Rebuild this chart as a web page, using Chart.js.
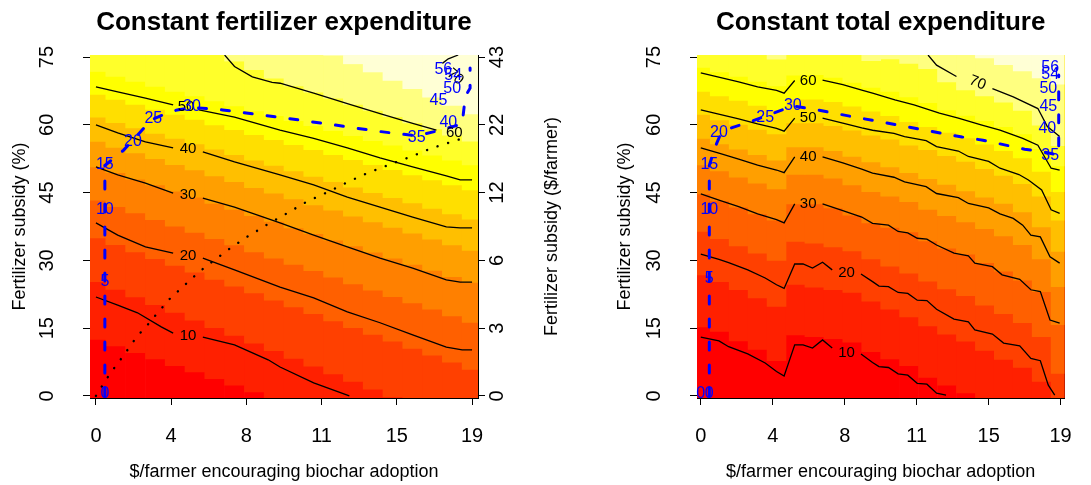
<!DOCTYPE html>
<html>
<head>
<meta charset="utf-8">
<script src="https://cdn.jsdelivr.net/npm/chart.js@4.4.1/dist/chart.umd.min.js"></script>
<style>
  html, body { margin: 0; padding: 0; background: #fff; }
  #wrap { position: relative; width: 1091px; height: 485px; }
  #wrap canvas { position: absolute; top: 0; }
</style>
</head>
<body>
<div id="wrap">
  <canvas id="fertChart" width="600" height="485" style="left:0"></canvas>
  <canvas id="totalChart" width="546" height="485" style="left:545px"></canvas>
</div>
<script>
// shared axes
const dollarSteps = [0, 1, 2, 3, 4, 5, 6, 7, 8, 9, 10, 11, 12, 13, 14, 15, 16, 17, 18, 19];
const dollarTickAt = [0, 3.8, 7.6, 11.4, 15.2, 19];
const dollarTickLabels = ['0', '4', '8', '11', '15', '19'];
const subsidyTicks = [0, 15, 30, 45, 60, 75];
const subsidyDollarLabels = ['0', '3', '6', '12', '22', '43'];
const heatColours = ['#FF0000', '#FF2000', '#FF4000', '#FF6000', '#FF8000', '#FF9F00',
  '#FFBF00', '#FFDF00', '#FFFF00', '#FFFF2A', '#FFFF80', '#FFFFD5'];

// ---- constant fertilizer expenditure ----
// subsidy (%) where each colour step starts, one value per dollar step
const fertBands = [
  [12.5, 11.1, 9.6, 8.2, 6.7, 5.3, 3.8, 2.4, 0.9, -0.6, -1, -1, -1, -1, -1, -1, -1, -1, -1, -1],
  [25.3, 23.6, 21.9, 20.2, 18.5, 16.8, 15.1, 13.4, 11.7, 10, 8.3, 6.6, 4.9, 3.2, 1.5, -0.2, -1, -1, -1, -1],
  [35, 33.5, 31.9, 30.4, 28.9, 27.4, 25.8, 24.3, 22.8, 21.2, 19.7, 18.2, 16.6, 15.1, 13.6, 12.1, 10.5, 9, 7.5, 5.9],
  [43.3, 41.9, 40.5, 39, 37.6, 36.2, 34.8, 33.4, 31.9, 30.5, 29.1, 27.7, 26.3, 24.8, 23.4, 22, 20.6, 19.2, 17.7, 16.3],
  [50.7, 49.4, 48, 46.7, 45.3, 44, 42.6, 41.3, 39.9, 38.6, 37.2, 35.9, 34.5, 33.2, 31.8, 30.5, 29.1, 27.8, 26.4, 25.1],
  [56.3, 55, 53.8, 52.5, 51.2, 50, 48.7, 47.4, 46.1, 44.9, 43.6, 42.3, 41.1, 39.8, 38.5, 37.3, 36, 34.7, 33.4, 32.2],
  [61.7, 60.5, 59.3, 58.1, 57, 55.8, 54.6, 53.4, 52.2, 51, 49.8, 48.6, 47.4, 46.2, 45, 43.9, 42.7, 41.5, 40.3, 39.1],
  [66.7, 65.6, 64.5, 63.4, 62.3, 61.2, 60, 58.9, 57.8, 56.7, 55.6, 54.5, 53.4, 52.3, 51.2, 50.1, 48.9, 47.8, 46.7, 45.6],
  [71.8, 70.7, 69.6, 68.5, 67.4, 66.4, 65.3, 64.2, 63.1, 62, 60.9, 59.8, 58.7, 57.6, 56.5, 55.5, 54.4, 53.3, 52.2, 51.1],
  [null, null, null, null, null, null, null, 74.1, 72.2, 70.3, 68.6, 67.2, 65.9, 64.5, 63.2, 61.8, 60.4, 59.1, 57.7, 56.4],
  [null, null, null, null, null, null, null, null, null, null, null, null, 75.4, 73.5, 71.7, 69.8, 68, 66.1, 64.3, 62.4]
];
// contour lines, [dollars, subsidy]; a null subsidy leaves room for the label
const fertContour10 = [[0, 21.9], [1.1, 20.1], [2.1, 18.4], [3.3, 15.3], [3.9, 13.9], [4.65, null], [5.4, 13], [7, 11.3], [8.7, 8], [9.3, 6.4], [11, 2.9], [12.8, 0]];
const fertContour20 = [[0, 38.3], [1.1, 35.6], [2.5, 33], [3.9, 31.6], [4.65, null], [5.4, 30.5], [7, 27.9], [9.3, 24.1], [11, 21.7], [12.7, 18.6], [14.35, 16.2], [16, 13.5], [17.7, 10.8], [18.5, 10.2], [19, 10.2]];
const fertContour30 = [[0, 50.7], [1.1, 48.9], [2.5, 47.1], [3.9, 44.9], [4.65, null], [5.4, 43.8], [7, 41.8], [9.3, 38.3], [11, 35.6], [12.7, 33], [14.35, 30.5], [16, 28.3], [17.7, 25.7], [18.4, 25.2], [19, 25.2]];
const fertContour40 = [[0, 60], [1.1, 58.2], [2.5, 56.2], [3.9, 54.9], [4.65, null], [5.4, 54], [7, 51.8], [9.3, 48.9], [11, 46.7], [12.7, 44], [14.35, 41.8], [16, 39.6], [17.7, 37.4], [18.4, 37.2], [19, 37.2]];
const fertContour50 = [[0, 68.4], [1.1, 67.3], [2.5, 65.9], [3.9, 64.4], [4.55, null], [5.2, 63.3], [7, 61.7], [9.3, 58.8], [11, 57], [12.7, 54.9], [14.35, 52.7], [16, 50.7], [17.7, 48.7], [18.4, 47.8], [19, 47.8]];
const fertContour60 = [[6.5, 75.45], [7, 72.9], [7.9, 70.6], [8.9, 69.4], [9.3, 69.2], [11, 67], [12.7, 64.7], [14.35, 62.5], [16, 60.3], [17.2, 58.8]];
const fertContour70 = [[18.3, 75.45], [17.8, 74.6], [17.5, 73.6]];
const fertContourLabels = [['10', 4.65, 13.4], ['20', 4.65, 31], ['30', 4.65, 44.5], ['40', 4.65, 54.6],
  ['50', 4.55, 63.9], ['60', 18.1, 58.2], ['70', 18.15, 70.6, 40]];
// equal-spending curve
const fertDotted = [[0, 0], [0.45, 3.2], [0.79, 5.4], [1.13, 7.4], [1.47, 9.4], [1.8, 11.5], [2.14, 13.5], [2.53, 15.3],
  [2.9, 17.3], [3.28, 19.2], [3.66, 21.2], [4.08, 22.9], [4.5, 24.6], [4.92, 26.3], [5.34, 27.9], [5.81, 29.5],
  [6.27, 31], [6.72, 32.5], [7.19, 33.9], [7.7, 35.4], [8.2, 36.7], [8.67, 38], [9.64, 40.4], [10.65, 43],
  [11.7, 45.1], [12.7, 47.3], [13.7, 49.3], [14.9, 51.3], [16, 53.1], [17, 54.9], [18.1, 56.4], [18.65, 57.2]];
// best-mix path and its labels
const fertPath = [[0.45, 0], [0.45, 51], [1.1, 53.3], [1.4, 54.4], [2.2, 58.2], [2.8, 61.1], [3.6, 62.6], [4.1, 63.3],
  [5, 63.8], [6.4, 63.3], [9.55, 61.5], [12, 60], [14.2, 58.6], [15.3, 58], [16.2, 57.6], [17.4, 58.8], [18.5, 60.2],
  [18.6, 64], [18.7, 66.6], [18.9, 68.1], [18.9, 72.6]];
const fertPathLabels = [['0', 0.45, 0.6], ['5', 0.45, 25.2], ['10', 0.45, 41.2], ['15', 0.45, 51.1], ['20', 1.87, 56.2],
  ['25', 2.9, 61.3], ['30', 4.85, 64.1], ['35', 16.2, 57.1], ['40', 17.8, 60.4], ['45', 17.3, 65.4],
  ['50', 18, 68.1], ['54', 18.05, 71], ['56', 17.55, 72.3]];

// ---- constant total expenditure ----
const totalBands = [
  [15.3, 14.3, 12.2, 10.3, 7.8, 13.5, 13.1, 12.7, 11.9, 9.8, 8.2, 6.7, 4.1, 2.4, 0.7, -1, -1, -1, -1, -1],
  [26.8, 25.3, 23.5, 21.7, 19.8, 24.7, 24.1, 23.5, 22.9, 21, 19.2, 17.5, 15.5, 13.7, 12.1, 10.1, 8.1, 6.3, 3.2, -1],
  [36.4, 34.8, 33.2, 31.6, 30, 34.2, 33.8, 33, 32.1, 30.3, 28.7, 27.2, 25.4, 23.7, 22.2, 20.1, 18.2, 16.2, 13.1, 5],
  [44.7, 43.2, 41.8, 40.3, 38.9, 42.5, 42.5, 41.6, 40, 38.3, 37.3, 36.3, 34.3, 32.7, 31.4, 29.5, 27.6, 25.6, 23.1, 15.8],
  [51.1, 49.8, 48.4, 47.1, 45.8, 49, 49, 48.2, 46.7, 45.2, 44.2, 43, 41.3, 39.9, 38.5, 37, 35.4, 33.5, 30.3, 24.2],
  [57, 55.8, 54.6, 53.4, 52.2, 55.1, 55.1, 54.3, 53, 51.8, 50.7, 49.4, 48.1, 46.8, 45.4, 44, 42.6, 40.7, 37.4, 32],
  [62.3, 61.1, 60.1, 59, 58, 60.4, 60.4, 59.8, 58.8, 57.7, 56.8, 55.5, 54.5, 53.2, 51.9, 50.3, 48.8, 47, 44.2, 38.9],
  [67.4, 66.4, 65.4, 64.3, 63.3, 65.7, 65.7, 65.1, 64.1, 63, 62, 60.7, 59.6, 58.3, 57.1, 55.7, 54.3, 52.7, 49.7, 45.2],
  [72.7, 71.7, 70.7, 69.6, 68.6, 71, 71.1, 70.5, 69.4, 68.3, 67.4, 66.2, 64.9, 63.3, 62.1, 60.9, 59.6, 58, 54.7, 50.9],
  [null, null, null, null, 74.5, null, null, null, null, 74.2, 74.6, 73.6, 72.4, 69.5, 67.7, 66.4, 65, 63.2, 59.9, 55.4],
  [null, null, null, null, null, null, null, null, null, null, null, null, null, null, null, 74.8, 73.3, 71.9, 70.4, 69]
];
const totalContour10 = [[0, 13], [0.96, 12.2], [1.47, 10.9], [2.48, 9.3], [3.4, 7.3], [4, 5.4], [4.4, 4.4], [4.96, 11.3],
  [5.4, 11.3], [5.9, 10.6], [6.43, 12.4], [6.94, 10.6], [7.7, null], [8.46, 9.3], [9.07, 7.4], [9.41, 6.5], [9.91, 6.3],
  [10.42, 4.9], [10.93, 4.6], [11.43, 2.8], [11.94, 2.6], [12.45, 0.6], [12.95, 0.2]];
const totalContour20 = [[0, 31.4], [0.96, 30.2], [1.47, 29.5], [2.48, 27.9], [3.4, 26.1], [4, 24.6], [4.4, 23.8], [4.96, 29.2],
  [5.4, 29.2], [5.9, 28.3], [6.43, 29.6], [6.94, 27.9], [7.7, null], [8.46, 27], [9.07, 25.3], [9.41, 24.3], [9.91, 24.2],
  [10.42, 22.9], [10.93, 22.7], [11.43, 21.2], [11.94, 21.1], [12.45, 19.2], [13.37, 17], [14.13, 16.4], [14.47, 14.6],
  [15.4, 13.7], [15.99, 11.7], [16.84, 11.1], [17.43, 8.3], [17.93, 7.8], [18.35, 2.4], [18.69, 0.2]];
const totalContour30 = [[0, 44.7], [1, 43.3], [2, 41.9], [3, 40.3], [4, 39], [4.4, 38.3], [4.96, 42.5], [5.67, null],
  [6.43, 42.5], [7.5, 41], [8.5, 39.6], [9.07, 38.2], [9.91, 37.8], [10.42, 36.4], [10.93, 36.1], [11.43, 34.9],
  [11.94, 34.7], [12.45, 33.4], [13.37, 31.6], [14.13, 31], [14.47, 29.4], [15.4, 28.6], [15.91, 26.8], [16.84, 25.8],
  [17.43, 23.5], [17.93, 23.1], [18.44, 16.8], [18.95, 16.1]];
const totalContour40 = [[0, 54.9], [1, 53.7], [2, 52.4], [3, 51.1], [4, 50], [4.4, 49.4], [4.96, 52.9], [5.67, null],
  [6.43, 52.9], [7.5, 51.6], [8.5, 50.2], [9.07, 49.3], [10.2, 48.4], [10.76, 47.4], [11.9, 46.3], [12.45, 44.8],
  [13.6, 43.9], [14.13, 42.6], [15.2, 41.6], [15.8, 40.3], [16.5, 39.3], [17, 37.8], [17.43, 35.6], [17.93, 35.2],
  [18.44, 30.8], [18.95, 29.4]];
const totalContour50 = [[0, 63.3], [1, 62.3], [2, 61.3], [3, 60.2], [4, 59.2], [4.4, 58.6], [4.96, 61.5], [5.67, null],
  [6.43, 61.5], [7.5, 60.4], [8.5, 59.3], [9.07, 58.8], [10.2, 58.1], [10.76, 57.4], [11.9, 56.5], [12.45, 55.2],
  [13.6, 54.2], [14.13, 53], [15.2, 51.9], [15.8, 50.4], [16.8, 49], [17.3, 47.8], [18, 45.6], [18.5, 41.2], [18.95, 40.4]];
const totalContour60 = [[0, 71.5], [1, 70.5], [2, 69.5], [3, 68.4], [4, 67.6], [4.4, 67], [4.96, 69.8], [5.67, null],
  [6.43, 69.9], [7.5, 68.9], [8.5, 67.7], [9.07, 67], [10.25, 65.5], [11.26, 64.4], [12.6, 62.6], [13.6, 61.5],
  [14.8, 60], [15.8, 58.8], [17, 57], [17.8, 55.5], [18.5, 50.4], [18.95, 50]];
const totalContour70 = [[12, 75.45], [12.45, 73.2], [13.5, 70.7], [14.6, null], [15.4, 68], [16.5, 66.2], [17.8, 63.6],
  [18.3, 59.6], [18.95, 57.4]];
const totalContourLabels = [['10', 7.7, 9.6], ['20', 7.7, 27.3], ['30', 5.67, 42.4], ['40', 5.67, 52.8],
  ['50', 5.67, 61.5], ['60', 5.67, 69.8], ['70', 14.62, 69.3, 22]];
const totalPath = [[0.45, 0], [0.45, 51], [0.75, 55], [1, 57.5], [1.6, 59.3], [2.7, 60.8], [4.3, 63.3], [4.86, 64.2],
  [5.9, 63.5], [7, 62.6], [9.3, 60.8], [11.5, 59.1], [13.8, 57.3], [14.9, 56.6], [17.1, 54.6], [18.1, 54],
  [18.9, 53.3], [18.9, 71]];
const totalPathLabels = [['0', 0, 0.6], ['0', 0.45, 0.6], ['5', 0.45, 25.9], ['10', 0.45, 41.2], ['15', 0.45, 51.1],
  ['20', 0.96, 58.2], ['25', 3.4, 61.5], ['30', 4.86, 64.2], ['35', 18.45, 53.1], ['40', 18.3, 59.1],
  ['45', 18.35, 64], ['50', 18.35, 68.1], ['54', 18.45, 71.2], ['56', 18.45, 72.6]];

const FONT = '"Liberation Sans", Arial, Helvetica, sans-serif';
Chart.defaults.font.family = FONT;
Chart.defaults.color = '#000';

const pts = pairs => pairs.map(([x, y]) => ({x, y}));

// one floating-bar dataset per colour step; higher steps paint over lower ones
function heatSets(bands) {
  const lows = [dollarSteps.map(() => -5)].concat(bands);
  return lows.map((band, k) => ({
    type: 'bar',
    data: dollarSteps.flatMap((x, i) => band[i] === null ? [] : [{x, y: [band[i], 80]}]),
    backgroundColor: heatColours[k],
    borderWidth: 0,
    grouped: false,
    barPercentage: 1,
    categoryPercentage: 1,
    order: 100 - k
  }));
}

function lineSet(pairs, colour, width, dash, cap, order) {
  return {
    type: 'line',
    data: pts(pairs),
    borderColor: colour,
    borderWidth: width,
    borderDash: dash,
    borderCapStyle: cap,
    pointRadius: 0,
    fill: false,
    tension: 0,
    order: order
  };
}

function labelPlugin(cfg) {
  return {
    id: 'markLabels',
    afterDatasetsDraw(chart) {
      const {ctx, chartArea, scales: {x, y}} = chart;
      const put = (list, font, colour) => {
        ctx.font = font;
        ctx.fillStyle = colour;
        ctx.textAlign = 'center';
        ctx.textBaseline = 'middle';
        for (const [text, vx, vy, angle] of list) {
          ctx.save();
          ctx.translate(x.getPixelForValue(vx), y.getPixelForValue(vy));
          if (angle) ctx.rotate(angle * Math.PI / 180);
          ctx.fillText(text, 0, 0);
          ctx.restore();
        }
      };
      ctx.save();
      put(cfg.contourLabels, '15px ' + FONT, '#000');
      put(cfg.pathLabels, '16px ' + FONT, '#0000ff');
      if (cfg.sideTitle) {
        // right-hand axis title reads bottom to top like the left one
        ctx.font = '18px ' + FONT;
        ctx.fillStyle = '#000';
        ctx.translate(chartArea.right + 74, (chartArea.top + chartArea.bottom) / 2);
        ctx.rotate(-Math.PI / 2);
        ctx.fillText(cfg.sideTitle, 0, 0);
      }
      ctx.restore();
    }
  };
}

function buildChart(id, cfg) {
  const tickFont = {size: 20};
  const titleFont = {size: 18};
  const yTicks = s => { s.ticks = subsidyTicks.map(v => ({value: v})); };
  const datasets = heatSets(cfg.bands)
    .concat(cfg.contours.map(c => lineSet(c, '#000', 1.3, [], 'butt', 10)));
  if (cfg.dotted) datasets.push(lineSet(cfg.dotted, '#000', 2.4, [0.1, 11], 'round', 5));
  datasets.push(lineSet(cfg.path, '#0000ff', 3, [8, 15], 'round', 1));

  const rightAxis = cfg.dollarAxis ? {
    ticks: {callback: (v, i) => subsidyDollarLabels[i], font: tickFont, color: '#000', padding: 1,
      minRotation: 90, maxRotation: 90, crossAlign: 'center'},
    grid: {drawOnChartArea: false, color: '#000', tickLength: 7}
  } : {
    ticks: {display: false},
    grid: {drawOnChartArea: false, drawTicks: false}
  };

  return new Chart(document.getElementById(id), {
    type: 'bar',
    data: {datasets},
    options: {
      responsive: false,
      animation: false,
      devicePixelRatio: 1,
      events: [],
      layout: {padding: {left: cfg.padLeft, right: cfg.padRight, top: 0, bottom: 0}},
      plugins: {
        legend: {display: false},
        tooltip: {enabled: false},
        title: {display: true, text: cfg.title, color: '#000', fullSize: false,
          font: {size: 26, weight: 'bold'}, padding: {top: 7, bottom: 16.8}}
      },
      scales: {
        x: {
          type: 'linear', min: cfg.xMin, max: cfg.xMax, offset: false, z: 1,
          afterBuildTicks: s => { s.ticks = dollarTickAt.map(v => ({value: v})); },
          afterFit: s => { s.height = 87; },
          ticks: {callback: (v, i) => dollarTickLabels[i], font: tickFont, color: '#000', padding: 19,
            maxRotation: 0, autoSkip: false},
          grid: {drawOnChartArea: false, color: '#000', tickLength: 7, offset: false},
          border: {display: true, color: '#000'},
          title: {display: true, text: '$/farmer encouraging biochar adoption', font: titleFont, color: '#000',
            padding: {top: 0, bottom: 2.2}}
        },
        y: {
          type: 'linear', position: 'left', min: -0.45, max: 75.45, z: 1,
          afterBuildTicks: yTicks,
          afterFit: s => { s.width = cfg.yWidth; },
          ticks: {callback: v => String(v), font: tickFont, color: '#000', padding: 24,
            minRotation: 90, maxRotation: 90, crossAlign: 'center'},
          grid: {drawOnChartArea: false, color: '#000', tickLength: 7},
          border: {display: true, color: '#000'},
          title: {display: true, text: 'Fertilizer subsidy (%)', font: titleFont, color: '#000',
            padding: {top: 9.2, bottom: 0}}
        },
        y2: Object.assign({
          type: 'linear', position: 'right', min: -0.45, max: 75.45, z: 1,
          afterBuildTicks: yTicks,
          afterFit: s => { s.width = cfg.rightWidth; },
          border: {display: true, color: '#000'}
        }, rightAxis)
      }
    },
    plugins: [labelPlugin(cfg)]
  });
}

buildChart('fertChart', {
  title: 'Constant fertilizer expenditure',
  xMin: -0.3, xMax: 19.3, padLeft: 0, padRight: 55, yWidth: 90, rightWidth: 67, dollarAxis: true,
  bands: fertBands,
  contours: [fertContour10, fertContour20, fertContour30, fertContour40, fertContour50, fertContour60, fertContour70],
  contourLabels: fertContourLabels,
  dotted: fertDotted,
  path: fertPath,
  pathLabels: fertPathLabels,
  sideTitle: 'Fertilizer subsidy ($/farmer)'
});

buildChart('totalChart', {
  title: 'Constant total expenditure',
  xMin: -0.2, xMax: 19.2, padLeft: 60, padRight: 0, yWidth: 92, rightWidth: 11, dollarAxis: false,
  bands: totalBands,
  contours: [totalContour10, totalContour20, totalContour30, totalContour40, totalContour50, totalContour60, totalContour70],
  contourLabels: totalContourLabels,
  dotted: null,
  path: totalPath,
  pathLabels: totalPathLabels,
  sideTitle: null
});
</script>
</body>
</html>
